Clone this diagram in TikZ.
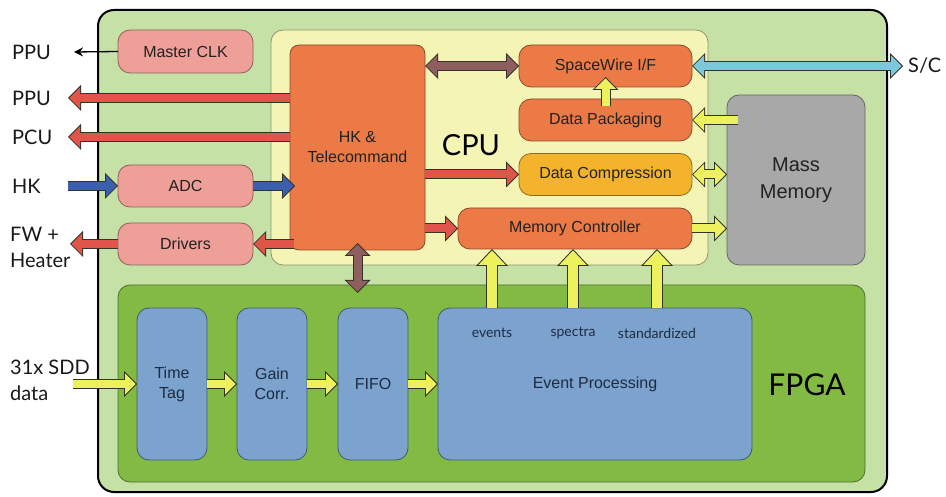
\documentclass[tikz,border=0pt]{standalone}
\usepackage{fontspec}
\setmainfont{Liberation Sans}
\newfontfamily\gill{Lato}
\usetikzlibrary{arrows.meta}
\definecolor{lgreen}{HTML}{C5E1A5}
\definecolor{dgreen}{HTML}{82BA44}
\definecolor{pyellow}{HTML}{F4F5B5}
\definecolor{orng}{HTML}{EB7A47}
\definecolor{gold}{HTML}{F3B32C}
\definecolor{pinkc}{HTML}{EE9F97}
\definecolor{bbox}{HTML}{7BA3CD}
\definecolor{gbox}{HTML}{A8A8A8}
\definecolor{ared}{HTML}{E0554A}
\definecolor{ablue}{HTML}{3B5FAD}
\definecolor{abrown}{HTML}{8F5E5F}
\definecolor{acyan}{HTML}{7CC7DA}
\definecolor{ayel}{HTML}{EEF15E}
\definecolor{aline}{HTML}{33332A}
\definecolor{txt}{HTML}{222222}
\definecolor{navy}{HTML}{1E2B45}
\begin{document}
\begin{tikzpicture}[x=1pt,y=-1pt,
  box/.style={rounded corners=12pt, line width=0.8pt, inner sep=0pt, outer sep=0pt, text=txt, font=\fontsize{16}{20}\selectfont, align=center},
  pinkbox/.style={box, fill=pinkc, draw=pinkc!60!black},
  orbox/.style={box, fill=orng, draw=orng!60!black},
  goldbox/.style={box, fill=gold, draw=gold!60!black},
  bluebox/.style={box, fill=bbox, draw=bbox!55!black, text=navy},
  graybox/.style={box, fill=gbox, draw=gbox!60!black},
  outlbl/.style={font=\gill\fontsize{20}{26}\selectfont, inner sep=0pt, anchor=west, align=left, text=black!90},
  sublbl/.style={font=\gill\fontsize{14}{16}\selectfont, inner sep=0pt, text=navy},
  blk/.style={line width=8pt, draw=#1, shorten >=1.4pt,
    -{Triangle[length=10.6pt,width=21.2pt,line width=0pt]},
    preaction={draw=aline, line width=10pt, shorten >=0pt,
      -{Triangle[length=13pt,width=26pt,line width=0pt]}}},
  blkd/.style={line width=8pt, draw=#1, shorten >=1.4pt, shorten <=1.4pt,
    {Triangle[length=10.6pt,width=21.2pt,line width=0pt]}-{Triangle[length=10.6pt,width=21.2pt,line width=0pt]},
    preaction={draw=aline, line width=10pt, shorten >=0pt, shorten <=0pt,
      {Triangle[length=13pt,width=26pt,line width=0pt]}-{Triangle[length=13pt,width=26pt,line width=0pt]}}},
  blkbig/.style={line width=10pt, draw=#1, shorten >=1.5pt,
    -{Triangle[length=14.5pt,width=27.3pt,line width=0pt]},
    preaction={draw=aline, line width=12pt, shorten >=0pt,
      -{Triangle[length=17pt,width=32pt,line width=0pt]}}},
]
\useasboundingbox (0,0) rectangle (946,497);

% containers
\node[draw=black, line width=2pt, fill=lgreen, rounded corners=16pt, minimum width=789pt, minimum height=482pt, inner sep=0pt] (board) at (492.5,251) {};
\node[box, fill=pyellow, draw=pyellow!60!black, minimum width=437pt, minimum height=235pt] (cpu) at (489.5,147.5) {};
\node[box, fill=dgreen, draw=dgreen!60!black, minimum width=747pt, minimum height=197pt] (fpga) at (491.5,383.5) {};
\node[font=\gill\fontsize{29}{34}\selectfont, inner sep=0pt] (cpulbl) at (471,145) {CPU};
\node[font=\gill\fontsize{30}{34}\selectfont, inner sep=0pt] (fpgalbl) at (807,385) {FPGA};

% boxes
\node[pinkbox, minimum width=135pt, minimum height=43pt] (mclk) at (185.5,51.5) {Master CLK};
\node[pinkbox, minimum width=135pt, minimum height=42pt] (adc) at (185.5,186) {ADC};
\node[pinkbox, minimum width=135pt, minimum height=42pt] (drv) at (185.5,244) {Drivers};
\node[orbox, rounded corners=9pt, minimum width=135pt, minimum height=205pt] (hk) at (357.5,147.5) {HK \&\\Telecommand};
\node[orbox, minimum width=173pt, minimum height=42pt] (spw) at (605.5,66) {SpaceWire I/F};
\node[orbox, minimum width=173pt, minimum height=42pt] (dpk) at (605.5,120) {Data Packaging};
\node[goldbox, minimum width=173pt, minimum height=42pt] (dcm) at (605.5,174.5) {Data Compression};
\node[orbox, minimum width=234pt, minimum height=41pt] (mctl) at (575,228.5) {Memory Controller};
\node[graybox, font=\fontsize{20}{27}\selectfont, minimum width=138pt, minimum height=170pt] (mm) at (796,180) {Mass\\Memory};
\node[bluebox, minimum width=70pt, minimum height=152pt] (tt) at (172,384) {Time\\Tag};
\node[bluebox, minimum width=70pt, minimum height=152pt] (gc) at (272,384) {Gain\\Corr.};
\node[bluebox, minimum width=70pt, minimum height=152pt] (fifo) at (373,384) {FIFO};
\node[bluebox, minimum width=314pt, minimum height=152pt] (ep) at (595,384) {Event Processing};
\node[sublbl] (ev1) at (492,333) {events};
\node[sublbl] (ev2) at (573,333) {spectra};
\node[sublbl] (ev3) at (657,333) {standardized};

% outside labels
\node[outlbl] (ppu1) at (12,52) {PPU};
\node[outlbl] (ppu2) at (12,98) {PPU};
\node[outlbl] (pcu) at (12,137) {PCU};
\node[outlbl] (hkl) at (12,186) {HK};
\node[outlbl] (fw) at (10,247) {FW +\\Heater};
\node[outlbl] (sdd) at (10,380) {31x SDD\\data};
\node[outlbl] (sc) at (908,66) {S/C};

% free ends
\coordinate (ppu1e) at (74,52);
\coordinate (ppu2e) at (68,98);
\coordinate (pcue) at (68,137);
\coordinate (hks) at (68,186);
\coordinate (fwe) at (70,244);
\coordinate (sdds) at (73,384);
\coordinate (sce) at (903,66);

% connectors
\draw[line width=1.3pt, -{Stealth[length=9pt,width=9pt]}] (mclk.west) -- (ppu1e);
\draw[blk=ared] (hk.west |- ppu2e) -- (ppu2e);
\draw[blk=ared] (hk.west |- pcue) -- (pcue);
\draw[blk=ablue] (hks) -- (adc.west);
\draw[blk=ablue] (adc.east) -- ([xshift=5pt]hk.west |- adc.east);
\draw[blk=ared] ([xshift=4pt]hk.west |- drv.east) -- (drv.east);
\draw[blk=ared] (drv.west) -- (fwe);
\draw[blkd=abrown] (hk.east |- spw.west) -- (spw.west);
\draw[blkd=acyan] (spw.east) -- (sce);
\draw[blk=ayel] ([yshift=-7pt]dpk.north) -- ([yshift=10pt]spw.south);
\draw[blk=ayel] ([xshift=11pt]mm.west |- dpk.east) -- (dpk.east);
\draw[blkd=ayel] (dcm.east) -- (mm.west |- dcm.east);
\draw[blk=ayel] (mctl.east) -- (mm.west |- mctl.east);
\draw[blk=ared] (hk.east |- dcm.west) -- (dcm.west);
\draw[blk=ared] (hk.east |- mctl.west) -- (mctl.west);
\draw[blkd=abrown] ([yshift=7pt]hk.south) -- ([yshift=-8pt]fpga.north -| hk.south);
\draw[blkbig=ayel] (ep.north -| ev1) -- (mctl.south -| ev1);
\draw[blkbig=ayel] (ep.north -| ev2) -- (mctl.south -| ev2);
\draw[blkbig=ayel] (ep.north -| ev3) -- (mctl.south -| ev3);
\draw[blk=ayel] (sdds) -- (tt.west);
\draw[blk=ayel] (tt.east) -- (gc.west);
\draw[blk=ayel] (gc.east) -- (fifo.west);
\draw[blk=ayel] (fifo.east) -- (ep.west);
\end{tikzpicture}
\end{document}
